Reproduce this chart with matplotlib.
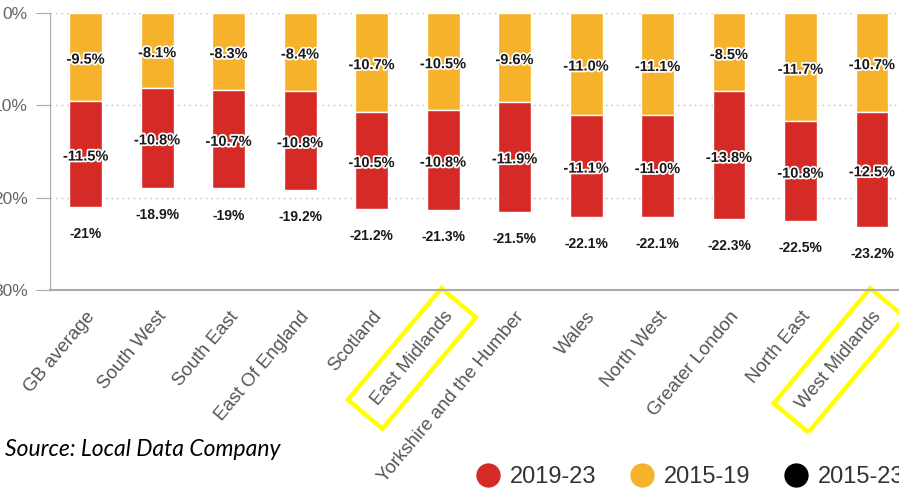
import matplotlib.pyplot as plt
import matplotlib.patheffects as pe
from matplotlib.lines import Line2D

plt.rcParams['font.family'] = ['Liberation Sans', 'DejaVu Sans']

# data (% change in store numbers)
regions = ['GB average', 'South West', 'South East', 'East Of England', 'Scotland',
           'East Midlands', 'Yorkshire and the Humber', 'Wales', 'North West',
           'Greater London', 'North East', 'West Midlands']
change_2015_19 = [9.5, 8.1, 8.3, 8.4, 10.7, 10.5, 9.6, 11.0, 11.1, 8.5, 11.7, 10.7]
change_2019_23 = [11.5, 10.8, 10.7, 10.8, 10.5, 10.8, 11.9, 11.1, 11.0, 13.8, 10.8, 12.5]
change_2015_23 = [21, 18.9, 19, 19.2, 21.2, 21.3, 21.5, 22.1, 22.1, 22.3, 22.5, 23.2]
highlighted = ['East Midlands', 'West Midlands']

red = '#d52a26'
yellow = '#f5b22a'
grey = '#666666'

fig = plt.figure(figsize=(8.99, 4.88), dpi=100)
ax = fig.add_axes([50 / 899, 1 - 290 / 488, 1 - 50 / 899, (290 - 13) / 488])

x = range(len(regions))
w = 0.46
neg_y = [-v for v in change_2015_19]
neg_r = [-v for v in change_2019_23]
ax.bar(x, neg_y, width=w, color=yellow, edgecolor='white', linewidth=1, zorder=3)
ax.bar(x, neg_r, bottom=neg_y, width=w, color=red, edgecolor='white', linewidth=1, zorder=3)

halo = [pe.withStroke(linewidth=2.5, foreground='white')]
lab = dict(ha='center', va='center', fontweight='bold', color='#1a1a1a', zorder=5)
for i in x:
    a = change_2015_19[i]
    b = change_2019_23[i]
    ax.annotate(f'-{a:.1f}%', (i, -a / 2), xytext=(0, -2), textcoords='offset points',
                fontsize=10.5, path_effects=halo, **lab)
    ax.annotate(f'-{b:.1f}%', (i, -a - b / 2), xytext=(0, -2), textcoords='offset points',
                fontsize=10.5, path_effects=halo, **lab)
    ax.annotate(f'-{change_2015_23[i]:g}%', (i, -change_2015_23[i]), xytext=(0, -19.5),
                textcoords='offset points', fontsize=10, **lab)

ax.set_xlim(-0.5, 849.25 / 71.5 - 0.5)
ax.set_ylim(-30, 0)
ax.set_yticks([0, -10, -20, -30])
ax.set_yticklabels(['0%', '10%', '20%', '30%'])
ax.set_xticks(list(x))
ax.set_xticklabels(regions, rotation=50, ha='right', rotation_mode='anchor')

ax.tick_params(axis='y', length=10, color='#aaaaaa', labelsize=12.5, labelcolor=grey, pad=6)
ax.tick_params(axis='x', length=0, labelsize=13.5, labelcolor='#555555', pad=13)
for t in ax.get_xticklabels():
    if t.get_text() in highlighted:
        t.set_bbox(dict(boxstyle='square,pad=0.75', fc='none', ec='#ffff00', lw=3.2))

for s in ['top', 'right']:
    ax.spines[s].set_visible(False)
ax.spines['left'].set_color('#aaaaaa')
ax.spines['bottom'].set_color('#aaaaaa')
ax.spines['bottom'].set_linewidth(1.5)
ax.yaxis.grid(True, linestyle=(0, (1, 3)), color='#bbbbbb', linewidth=1)
ax.set_axisbelow(True)

fig.text(5 / 899, 1 - 450 / 488, 'Source: Local Data Company', fontsize=16.5,
         style='italic', family=['Lato', 'DejaVu Sans'], va='center', ha='left')

handles = [Line2D([], [], marker='o', linestyle='none', markersize=16.5, color=c)
           for c in [red, yellow, 'black']]
fig.legend(handles, ['2019-23', '2015-19', '2015-23'], loc='center left',
           bbox_to_anchor=(476 / 899, 1 - 477 / 488), ncol=3, frameon=False,
           fontsize=17, handlelength=1, handletextpad=0.42, columnspacing=1.45,
           borderpad=0, borderaxespad=0, labelcolor='#333333')

fig.savefig('out.png', dpi=100)
